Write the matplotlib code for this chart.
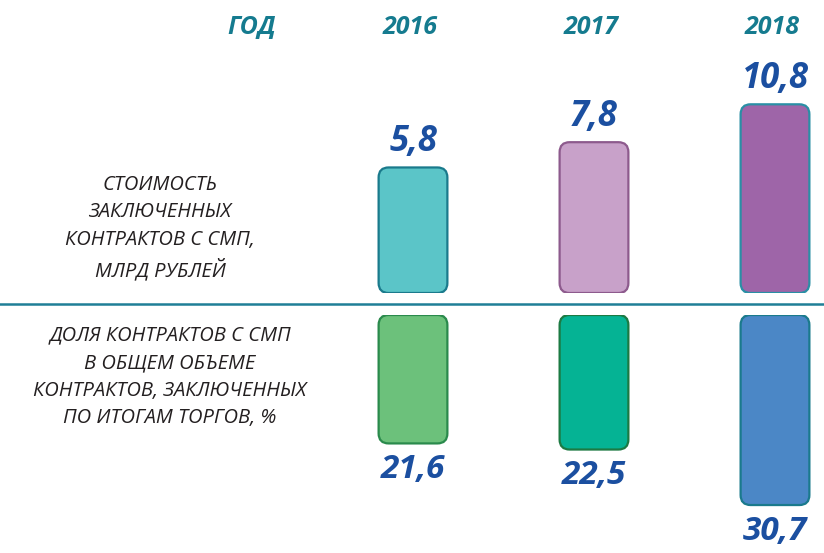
import matplotlib
matplotlib.use("Agg")
import matplotlib.pyplot as plt
from matplotlib.lines import Line2D
from matplotlib.patches import FancyBboxPatch
from matplotlib.transforms import blended_transform_factory

# data
years = ["2016", "2017", "2018"]
contract_value = [5.8, 7.8, 10.8]   # стоимость контрактов с СМП, млрд руб
smp_share = [21.6, 22.5, 30.7]      # доля контрактов с СМП, %

header_label = "ГОД"
top_label = "СТОИМОСТЬ\nЗАКЛЮЧЕННЫХ\nКОНТРАКТОВ С СМП,\nМЛРД РУБЛЕЙ"
bottom_label = "ДОЛЯ КОНТРАКТОВ С СМП\nВ ОБЩЕМ ОБЪЕМЕ\nКОНТРАКТОВ, ЗАКЛЮЧЕННЫХ\nПО ИТОГАМ ТОРГОВ, %"

top_fill = ["#5bc5c8", "#c8a1c9", "#9e65a8"]
top_edge = ["#1a7a8c", "#8d5a8d", "#2a8fa5"]
bot_fill = ["#6cc17b", "#05b394", "#4b87c6"]
bot_edge = ["#2a8a4c", "#1c7a43", "#1a7a8c"]

TEAL = "#157b8f"
BLUE = "#1b4fa0"
TEXT = "#231f20"
NUM_FONT = ["Open Sans", "DejaVu Sans"]
CAP_FONT = ["Open Sans", "DejaVu Sans"]

# layout (pixels of an 824x553 canvas)
W, H = 824, 553
PX_PER_X = 181.0        # distance between bar centres
X0_PX = 413.0           # centre of the first bar
TOP_BASE_PX = 293.0     # bottom of upper bars
BOT_BASE_PX = 315.0     # top of lower bars
TOP_SCALE, TOP_FLOOR = 12.63, -4.14   # px per unit, value at bar foot
BOT_SCALE, BOT_FLOOR = 6.77, 2.63
BAR_W = 0.38
RADIUS_PX = 10.0

fig = plt.figure(figsize=(W / 100, H / 100), dpi=100)
xlim = (-X0_PX / PX_PER_X, (W - X0_PX) / PX_PER_X)

ax_top = fig.add_axes([0, (H - TOP_BASE_PX) / H, 1, TOP_BASE_PX / H])
ax_top.set_xlim(*xlim)
ax_top.set_ylim(TOP_FLOOR, TOP_FLOOR + TOP_BASE_PX / TOP_SCALE)

ax_bot = fig.add_axes([0, 0, 1, (H - BOT_BASE_PX) / H])
ax_bot.set_xlim(*xlim)
ax_bot.set_ylim(BOT_FLOOR + (H - BOT_BASE_PX) / BOT_SCALE, BOT_FLOOR)

for ax in (ax_top, ax_bot):
    ax.axis("off")


def rounded_bars(ax, values, floor, scale, fills, edges):
    aspect = PX_PER_X / scale
    r = RADIUS_PX / PX_PER_X
    for i, v in enumerate(values):
        box = FancyBboxPatch(
            (i - BAR_W / 2, floor), BAR_W, v - floor,
            boxstyle=f"round,pad=0,rounding_size={r}",
            mutation_aspect=aspect,
            facecolor=fills[i], edgecolor=edges[i], linewidth=1.6,
        )
        ax.add_patch(box)


rounded_bars(ax_top, contract_value, TOP_FLOOR, TOP_SCALE, top_fill, top_edge)
rounded_bars(ax_bot, smp_share, BOT_FLOOR, BOT_SCALE, bot_fill, bot_edge)

for i, v in enumerate(contract_value):
    ax_top.annotate(f"{v}".replace(".", ","), xy=(i, v), xytext=(0, 12),
                    textcoords="offset points", ha="center", va="baseline",
                    fontsize=25, fontweight="bold", fontstyle="italic",
                    color=BLUE, family=NUM_FONT, annotation_clip=False)

for i, v in enumerate(smp_share):
    ax_bot.annotate(f"{v}".replace(".", ","), xy=(i, v), xytext=(0, -7),
                    textcoords="offset points", ha="center", va="top",
                    fontsize=24, fontweight="bold", fontstyle="italic",
                    color=BLUE, family=NUM_FONT, annotation_clip=False)

# header row
head_y = 1 - 27 / H
trans = blended_transform_factory(ax_top.transData, fig.transFigure)
for i, year in enumerate(years):
    ax_top.text(i - 0.015, head_y, year, transform=trans, ha="center", va="center",
                fontsize=18, fontweight="bold", fontstyle="italic",
                color=TEAL, family=NUM_FONT)
fig.text(252 / W, head_y, header_label, ha="center", va="center",
         fontsize=18, fontweight="bold", fontstyle="italic",
         color=TEAL, family=NUM_FONT)

# row captions
fig.text(160 / W, 1 - 228 / H, top_label, ha="center", va="center",
         multialignment="center", fontsize=14.5, fontstyle="italic",
         color=TEXT, family=CAP_FONT, linespacing=1.5)
fig.text(170 / W, 1 - 377 / H, bottom_label, ha="center", va="center",
         multialignment="center", fontsize=14.5, fontstyle="italic",
         color=TEXT, family=CAP_FONT, linespacing=1.5)

# separator between the two rows
sep_y = 1 - 304 / H
fig.add_artist(Line2D([0, 1], [sep_y, sep_y], transform=fig.transFigure,
                      color="#1f7f97", linewidth=1.8))

fig.savefig("out.png", dpi=100)
